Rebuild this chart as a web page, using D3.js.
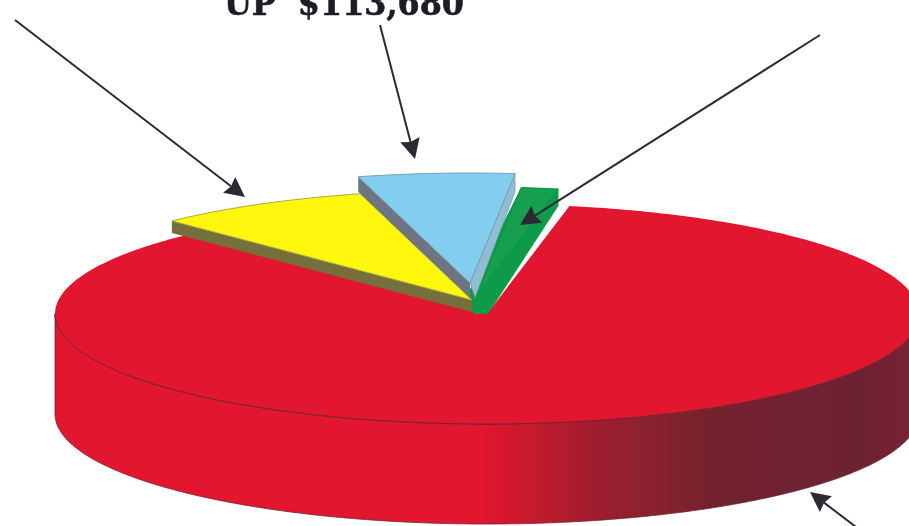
<!DOCTYPE html>
<html>
<head>
<meta charset="utf-8">
<script src="https://cdn.jsdelivr.net/npm/d3@7/dist/d3.min.js"></script>
<style>html,body{margin:0;padding:0;background:#fff;overflow:hidden}svg{display:block}</style>
</head>
<body>
<script>
// Data (estimated share of the pie, percent)
const categories = ["Main", "Yellow", "Blue", "Green"];
const shares = [84.72, 8.06, 5.83, 1.39];
const sliceColors = ["#e2162e", "#fff60f", "#83cdf0", "#12a04e"];
const title = "UP  $113,680";

const W = 909, H = 526;
const cx = 487, cy = 314, rx = 432, ry = 110, baseDepth = 100;
const toRad = Math.PI / 180;

// Explosion offset and thickness for each slice
const offsets = [[0, 0], [-15, -14], [-17, -31], [-11, -17]];
const depths = [baseDepth, 12, 15, 17];
const sideStart = [null, "#75703a", "#6d7480", null];
const sideEnd = [null, null, "#8fbdd3", "#0f9a4a"];
const edgeColors = [null, "#a9a640", "#76a0b0", "#0e9447"];

const svg = d3.select("body").append("svg").attr("width", W).attr("height", H);
const defs = svg.append("defs");
defs.append("filter").attr("id", "soft").append("feGaussianBlur").attr("stdDeviation", 0.55);
const grad = defs.append("linearGradient").attr("id", "rim")
  .attr("gradientUnits", "userSpaceOnUse").attr("x1", 0).attr("x2", W).attr("y1", 0).attr("y2", 0);
[[0.53, "#e2162e"], [0.58, "#c81a2d"], [0.66, "#9c1f2e"], [0.78, "#74222f"], [0.95, "#6c2431"], [1, "#772431"]]
  .forEach(([o, c]) => grad.append("stop").attr("offset", o).attr("stop-color", c));

const root = svg.append("g").attr("filter", "url(#soft)");
const line = d3.line();
const pie = d3.pie().sort(null).startAngle(11 * toRad).endAngle(371 * toRad);
const arcs = pie(shares);

const pt = (a, ox, oy, dy = 0) => [cx + ox + rx * Math.sin(a), cy + oy + dy - ry * Math.cos(a)];
const arcPts = (a0, a1, ox, oy, dy = 0) => {
  const n = Math.max(2, Math.ceil(Math.abs(a1 - a0) / 0.01));
  return d3.range(n + 1).map(i => pt(a0 + (a1 - a0) * i / n, ox, oy, dy));
};

// Main slab: front wall
const frontA = 90 * toRad, frontB = 270 * toRad;
root.append("path")
  .attr("d", line([...arcPts(frontA, frontB, 0, 0), ...arcPts(frontB, frontA, 0, 0, baseDepth)]) + "Z")
  .attr("fill", "url(#rim)").attr("stroke", "#6b2a35").attr("stroke-width", 0.8);

// Main slab: top face
root.append("path")
  .attr("d", line([[cx, cy], ...arcPts(arcs[0].startAngle, arcs[0].endAngle, 0, 0)]) + "Z")
  .attr("fill", sliceColors[0]);
root.append("path")
  .attr("d", line(arcPts(frontA, frontB, 0, 0)))
  .attr("fill", "none").attr("stroke", "#74202f").attr("stroke-width", 1);

// Exploded slices, back to front
[3, 1, 2].forEach(i => {
  const a = arcs[i], [ox, oy] = offsets[i], d = depths[i];
  const apex = [cx + ox, cy + oy], apexLow = [apex[0], apex[1] + d];
  if (i === 3) {
    // green: wall silhouette widening at its toe, reaching the blue wall and the red notch
    root.append("path")
      .attr("d", line([pt(a.startAngle, ox, oy), pt(a.endAngle, ox, oy), pt(a.endAngle, ox, oy, d),
        [apexLow[0] + 12, apexLow[1]], [apexLow[0] - 2, apexLow[1]], [apex[0] - 10, apex[1]]]) + "Z")
      .attr("fill", sideEnd[i]);
  }
  if (i === 2) {
    // blue: right-hand wall is slightly deeper than the left
    root.append("path")
      .attr("d", line([pt(a.endAngle, ox, oy), pt(a.endAngle, ox, oy, d + 3), [apexLow[0] + 5, apexLow[1]], apex]) + "Z")
      .attr("fill", sideEnd[i]).attr("stroke", "#6d8794").attr("stroke-width", 0.5);
  }
  if (sideStart[i]) {
    root.append("path")
      .attr("d", line([pt(a.startAngle, ox, oy), pt(a.startAngle, ox, oy, d), apexLow, apex]) + "Z")
      .attr("fill", sideStart[i]);
  }
  root.append("path")
    .attr("d", line([apex, ...arcPts(a.startAngle, a.endAngle, ox, oy)]) + "Z")
    .attr("fill", sliceColors[i]).attr("stroke", edgeColors[i]).attr("stroke-width", 1);
});

// Callout arrows
const arrows = [
  { from: [15, 20], to: [245, 197] },
  { from: [380, 25], to: [415, 159] },
  { from: [820, 35], to: [520, 225] },
  { from: [860, 530], to: [810, 492] }
];
const arrowColor = "#2b2c32", headLen = 20, headHalf = 10;
arrows.forEach(({ from, to }) => {
  const t = Math.atan2(to[1] - from[1], to[0] - from[0]);
  const ux = Math.cos(t), uy = Math.sin(t);
  const base = [to[0] - ux * headLen, to[1] - uy * headLen];
  const notch = [to[0] - ux * headLen * 0.88, to[1] - uy * headLen * 0.88];
  root.append("path").attr("d", line([from, notch]))
    .attr("stroke", arrowColor).attr("stroke-width", 2).attr("fill", "none");
  root.append("path")
    .attr("d", line([to, [base[0] - uy * headHalf, base[1] + ux * headHalf], notch, [base[0] + uy * headHalf, base[1] - ux * headHalf]]) + "Z")
    .attr("fill", arrowColor);
});

// Cropped heading
root.append("text")
  .attr("x", 344).attr("y", 15)
  .attr("text-anchor", "middle")
  .style("white-space", "pre")
  .attr("font-family", "'DejaVu Serif', 'Liberation Serif', serif")
  .attr("font-weight", "bold").attr("font-size", 34)
  .attr("textLength", 240).attr("lengthAdjust", "spacingAndGlyphs")
  .attr("fill", "#1c1d24").attr("stroke", "#1c1d24").attr("stroke-width", 0.6)
  .text(title);
</script>
</body>
</html>
